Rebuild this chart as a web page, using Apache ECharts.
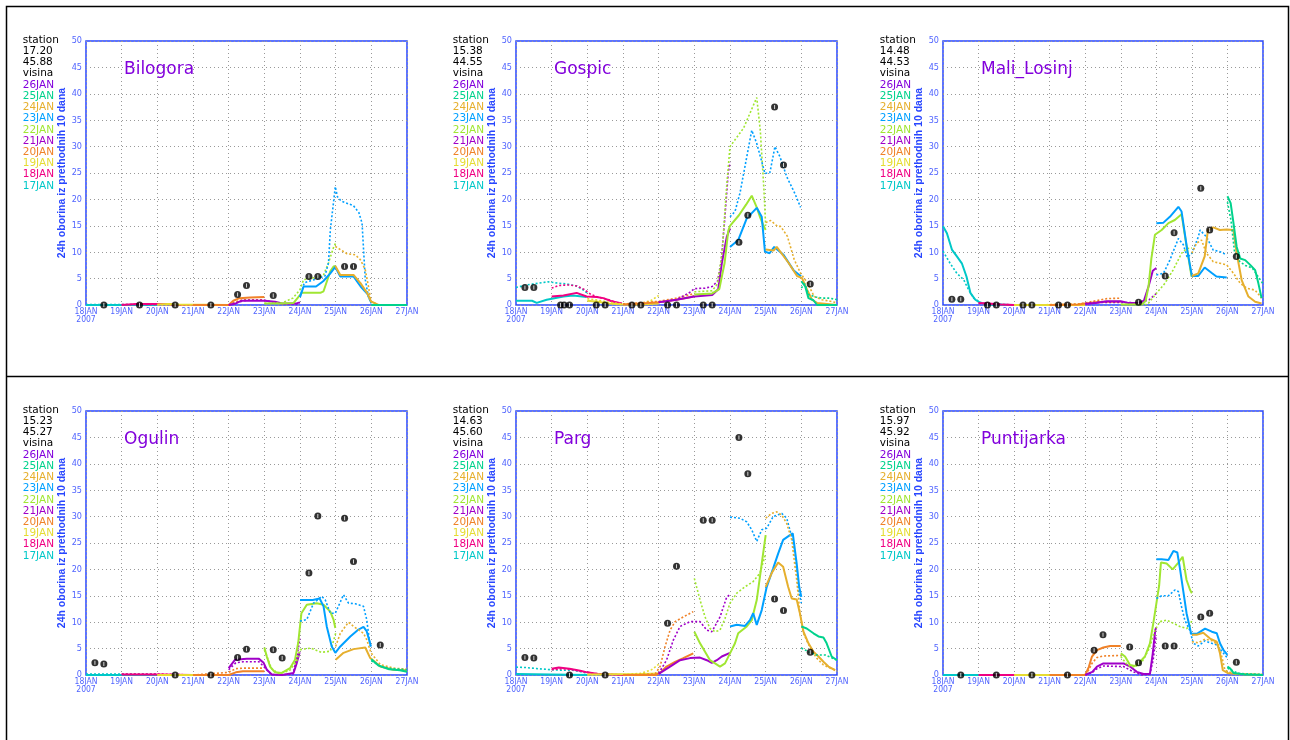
<!DOCTYPE html>
<html>
<head>
<meta charset="utf-8">
<script src="https://cdn.jsdelivr.net/npm/echarts@6/dist/echarts.min.js"></script>
<style>
html,body{margin:0;padding:0;background:#fff;}
#chart{width:1290px;height:740px;}
</style>
</head>
<body>
<div id="chart"></div>
<script>
// ---------- categories / labels ----------
const dayLabels = ['18JAN\n2007','19JAN','20JAN','21JAN','22JAN','23JAN','24JAN','25JAN','26JAN','27JAN'];
const runLabels = ['26JAN','25JAN','24JAN','23JAN','22JAN','21JAN','20JAN','19JAN','18JAN','17JAN'];
const stationNames = ['Bilogora','Gospic','Mali_Losinj','Ogulin','Parg','Puntijarka'];
const stationLon = ['17.20','15.38','14.48','15.23','14.63','15.97'];
const stationLat = ['45.88','44.55','44.53','45.27','45.60','45.92'];
const yAxisTitle = '24h oborina iz prethodnih 10 dana';

// ---------- observations [day since 18JAN 00, mm] ----------
const bilogoraObs = [[0.5,0],[1.5,0],[2.5,0],[3.5,0],[4.25,2.0],[4.5,3.7],[5.25,1.8],[6.25,5.4],[6.5,5.4],[7.25,7.3],[7.5,7.3]];
const gospicObs = [[0.25,3.3],[0.5,3.3],[1.25,0],[1.35,0],[1.5,0],[2.25,0],[2.5,0],[3.25,0],[3.5,0],[4.25,0],[4.5,0],[5.25,0],[5.5,0],[6.25,11.9],[6.5,17.0],[7.25,37.5],[7.5,26.5],[8.25,4.0]];
const maliObs = [[0.25,1.1],[0.5,1.1],[1.25,0],[1.5,0],[2.25,0],[2.5,0],[3.25,0],[3.5,0],[5.5,0.5],[6.25,5.5],[6.5,13.7],[7.25,22.1],[7.5,14.2],[8.25,9.2]];
const ogulinObs = [[0.25,2.3],[0.5,2.1],[2.5,0],[3.5,0],[4.25,3.3],[4.5,4.9],[5.25,4.8],[5.5,3.2],[6.25,19.3],[6.5,30.1],[7.25,29.7],[7.5,21.5],[8.25,5.7]];
const pargObs = [[0.25,3.3],[0.5,3.2],[1.5,0],[2.5,0],[4.25,9.8],[4.5,20.6],[5.25,29.3],[5.5,29.3],[6.25,45],[6.5,38.1],[7.25,14.4],[7.5,12.2],[8.25,4.3]];
const puntObs = [[0.5,0],[1.5,0],[2.5,0],[3.5,0],[4.25,4.7],[4.5,7.6],[5.25,5.3],[5.5,2.3],[6.25,5.5],[6.5,5.5],[7.25,11.0],[7.5,11.7],[8.25,2.4]];

// ---------- forecasts: [run, model (A / B), [[day, mm], ...]] ----------
const bilogoraRuns = [
 ['17JAN','A',[[0,0],[2,0]]],
 ['17JAN','B',[[0,0.1],[1,0.1],[2,0.1]]],
 ['18JAN','A',[[1,0],[1.4,0.2],[1.7,0.2],[2,0.2],[2.3,0.2],[2.5,0],[3,0]]],
 ['18JAN','B',[[1,0.1],[3,0]]],
 ['19JAN','A',[[2,0.1],[2.3,0.2],[2.6,0.1],[4,0]]],
 ['19JAN','B',[[2,0],[4,0]]],
 ['20JAN','A',[[3,0],[4.0,0],[4.13,0.8],[4.3,1.3],[4.6,1.4],[5.0,1.5]]],
 ['20JAN','B',[[3,0],[4.0,0],[4.2,0.6],[4.4,1.0],[5.0,1.0]]],
 ['21JAN','A',[[4,0],[4.2,0.3],[4.35,0.8],[5.0,0.8],[5.3,0.6],[5.5,0.3],[5.9,0.3],[6.0,0.5]]],
 ['21JAN','B',[[4,0],[4.3,0.6],[4.5,0.9],[5.0,0.9],[5.3,0.5],[5.5,0.2],[6,0.2]]],
 ['22JAN','A',[[5,0.3],[5.5,0.3],[5.82,0.4],[6.05,2.3],[6.57,2.3],[6.66,2.6],[6.85,6.4],[6.94,7.3],[7.0,7.4]]],
 ['22JAN','B',[[5,0.3],[5.5,0.4],[5.8,1.3],[6.0,2.9],[6.1,4.8],[6.35,5.1],[6.65,5.5],[6.8,8],[6.95,11.1],[7.0,11.7]]],
 ['23JAN','A',[[6.0,1.5],[6.1,3.5],[6.45,3.5],[6.65,4.5],[6.85,6.0],[6.99,7.2],[7.13,5.4],[7.5,5.4],[7.7,3.5],[7.9,2.0],[8.0,0.4]]],
 ['23JAN','B',[[6.0,1.5],[6.12,4.2],[6.25,4.5],[6.5,5.0],[6.7,5.5],[6.8,8],[6.85,14.2],[6.99,22.4],[7.05,20.5],[7.15,19.7],[7.5,18.8],[7.65,17.5],[7.74,15.5],[7.83,4.8],[7.92,1.5],[8.0,0.3]]],
 ['24JAN','A',[[6.99,7.4],[7.13,5.7],[7.5,5.7],[7.69,4.2],[7.88,2.3],[7.99,0.7],[8.2,0],[9,0]]],
 ['24JAN','B',[[6.99,11.1],[7.13,10.5],[7.32,9.7],[7.55,9.5],[7.69,8.6],[7.83,6.7],[7.92,3.5],[7.99,0.7],[8.2,0],[9,0]]],
 ['25JAN','A',[[8,0],[9,0]]]
];
const gospicRuns = [
 ['17JAN','A',[[0,0.8],[0.45,0.8],[0.58,0.4],[0.86,1.0],[1.33,1.6],[1.6,1.8],[1.98,1.5]]],
 ['17JAN','B',[[0,3.3],[0.3,3.8],[0.6,4.1],[0.9,4.4],[1.1,4.2],[1.4,4.0],[1.7,3.6],[1.9,2.8],[2.0,2.2]]],
 ['18JAN','A',[[1.0,1.6],[1.33,1.8],[1.7,2.3],[1.98,1.6],[2.26,1.5],[2.45,1.3],[2.68,0.7],[2.97,0.3]]],
 ['18JAN','B',[[1.0,3.2],[1.2,3.7],[1.5,3.8],[1.7,3.6],[1.9,3.0],[2.1,2.0],[2.3,1.5],[2.6,1.0],[2.8,0.5],[3.0,0.2]]],
 ['19JAN','A',[[2.0,0.8],[2.3,0.6],[2.6,0.3],[3.0,0.1],[3.5,0.1],[4.0,0.3]]],
 ['19JAN','B',[[2.0,1.2],[2.3,0.9],[2.6,0.5],[3.0,0.2],[3.5,0.3],[3.8,0.9],[4.0,1.8]]],
 ['20JAN','A',[[3.0,0.1],[3.5,0.3],[4.0,0.5],[4.5,1.0],[4.9,1.5],[5.0,1.7]]],
 ['20JAN','B',[[3.0,0.2],[3.5,0.4],[4.0,0.7],[4.5,1.3],[4.9,2.0],[5.0,2.2]]],
 ['21JAN','A',[[4.0,0.5],[4.5,1.0],[5.0,1.6],[5.5,1.9],[5.67,3.0],[5.77,7.9],[5.91,12.9],[6.0,14.5]]],
 ['21JAN','B',[[4.0,0.5],[4.5,1.0],[4.9,2.5],[5.0,3.1],[5.3,3.2],[5.5,3.5],[5.65,4.5],[5.75,8],[5.85,16],[5.95,25],[6.0,27]]],
 ['22JAN','A',[[5.0,2.0],[5.5,2.2],[5.7,3.0],[5.85,8],[5.95,14],[6.0,15],[6.25,17],[6.45,19],[6.61,20.7],[6.75,18.5],[6.85,16.5],[6.93,15.2],[7.0,14.2]]],
 ['22JAN','B',[[5.0,2.5],[5.5,2.7],[5.65,4.0],[5.78,10],[5.9,22],[6.0,30],[6.38,33.5],[6.75,39.3],[6.85,33],[6.95,22],[7.0,15]]],
 ['23JAN','A',[[6.0,11],[6.23,12.3],[6.47,16.4],[6.75,18.4],[6.89,16.7],[6.98,10.1],[7.11,9.8],[7.24,11],[7.5,9.5],[7.78,6.6],[7.96,5.6],[8.0,5.5]]],
 ['23JAN','B',[[6.0,16.7],[6.14,17.7],[6.28,21.2],[6.61,33.1],[6.75,30.6],[6.98,24.9],[7.12,25.1],[7.26,30],[7.4,28.1],[7.59,24.3],[7.82,21.1],[7.98,18.5]]],
 ['24JAN','A',[[7.0,10.5],[7.22,10.3],[7.31,11],[7.64,8],[7.88,5.5],[8.02,5.1],[8.16,2.9],[8.3,1.0],[8.44,0.4],[9.0,0]]],
 ['24JAN','B',[[7.0,15.6],[7.14,16],[7.33,14.9],[7.42,14.9],[7.61,13],[7.8,8.6],[7.98,6],[8.17,4.2],[8.36,1.6],[8.58,1.0],[8.81,0.7],[8.95,0.5]]],
 ['25JAN','A',[[8.0,4.5],[8.11,3.5],[8.2,1.3],[8.34,0.9],[8.44,0],[9,0]]],
 ['25JAN','B',[[8.0,3.2],[8.1,4.0],[8.2,2.0],[8.4,1.5],[8.6,1.3],[8.8,1.3],[9.0,1.0]]]
];
const maliRuns = [
 ['17JAN','A',[[0,14.9],[0.11,13.6],[0.25,10.5],[0.39,9.2],[0.53,7.9],[0.66,5.4],[0.77,2.3],[0.91,1.0],[1.05,0.4],[1.24,0.1],[2,0]]],
 ['17JAN','B',[[0,10.2],[0.2,7.9],[0.39,6],[0.58,4.8],[0.72,2.9],[0.86,1.3],[1.05,0.5],[1.24,0.25],[2,0]]],
 ['18JAN','A',[[1,0.4],[1.3,0.3],[1.6,0.1],[2,0],[3,0]]],
 ['18JAN','B',[[1,0.3],[1.5,0.2],[2,0],[3,0]]],
 ['19JAN','A',[[2,0],[4,0]]],
 ['19JAN','B',[[2,0],[3.5,0.1],[4,0.2]]],
 ['20JAN','A',[[3,0],[3.8,0.1],[4.0,0.3],[4.3,0.5],[4.6,0.6],[5.0,0.6]]],
 ['20JAN','B',[[3,0],[3.8,0.2],[4.0,0.4],[4.3,0.8],[4.6,1.2],[5.0,1.3]]],
 ['21JAN','A',[[4.0,0.2],[4.3,0.4],[4.6,0.7],[5.0,0.7],[5.2,0.4],[5.5,0.4],[5.65,0.8],[5.78,3.5],[5.9,6.5],[6.0,7.0]]],
 ['21JAN','B',[[4.0,0.3],[4.3,0.5],[5.0,0.5],[5.5,0.4],[5.8,1.0],[6.0,2.2]]],
 ['22JAN','A',[[5.0,0.1],[5.6,0.1],[5.7,0.8],[5.78,3.5],[5.86,8.8],[5.96,13.3],[6.15,14.2],[6.34,15.5],[6.52,16.1],[6.71,17.2],[6.83,12],[6.99,5.4]]],
 ['22JAN','B',[[5.0,0.1],[5.75,0.1],[6.0,2.2],[6.24,4.1],[6.47,6.6],[6.71,9.8],[6.85,10.7],[7.0,10.8]]],
 ['23JAN','A',[[6.0,15.5],[6.2,15.6],[6.38,16.7],[6.62,18.6],[6.71,17.7],[6.87,10.4],[7.0,5.5],[7.18,5.5],[7.36,7.1],[7.55,6.1],[7.69,5.4],[7.98,5.2]]],
 ['23JAN','B',[[6.0,5.7],[6.2,6.0],[6.38,8.5],[6.62,12.6],[6.76,11.4],[6.87,9.0],[7.0,9.8],[7.18,12.9],[7.23,14.2],[7.41,12.9],[7.6,10.4],[7.79,10.1],[7.98,9.5]]],
 ['24JAN','A',[[7.0,5.5],[7.18,6],[7.36,9.2],[7.45,14.2],[7.6,14.7],[7.79,14.2],[7.98,14.3],[8.17,14.2],[8.26,9.8],[8.4,4.7],[8.59,1.6],[8.78,0.6],[8.96,0.3]]],
 ['24JAN','B',[[7.0,9.8],[7.13,11.7],[7.27,12.3],[7.41,9.8],[7.6,8.2],[7.79,7.9],[7.98,7.6],[8.17,6],[8.36,4.1],[8.54,3.2],[8.78,2.8],[8.96,1.3]]],
 ['25JAN','A',[[8.0,20.6],[8.09,19.3],[8.17,15.5],[8.26,11],[8.36,8.8],[8.5,8.5],[8.64,7.6],[8.78,6.6],[8.87,4.1],[8.96,1.3]]],
 ['25JAN','B',[[8.0,19.5],[8.1,16],[8.2,10],[8.35,8.2],[8.5,7.5],[8.7,7],[8.85,5.5],[9.0,4.0]]]
];
const ogulinRuns = [
 ['17JAN','A',[[0,0],[2,0]]],
 ['17JAN','B',[[0,0.2],[1,0.2],[2,0.2]]],
 ['18JAN','A',[[1,0.1],[2,0.1],[3,0]]],
 ['18JAN','B',[[1,0.2],[2,0.2],[3,0]]],
 ['19JAN','A',[[2,0],[4,0]]],
 ['19JAN','B',[[2,0],[4,0]]],
 ['20JAN','A',[[3,0],[4.0,0],[4.2,0.5],[4.4,0.7],[5.0,0.7]]],
 ['20JAN','B',[[3,0],[4.0,0.5],[4.2,1.2],[4.4,1.3],[5.0,1.3]]],
 ['21JAN','A',[[4.0,1.3],[4.18,2.9],[4.51,3.1],[4.84,3.1],[4.98,2.3],[5.07,1.0],[5.21,0.1],[5.5,0],[5.82,0.4],[5.91,2.3],[5.99,4.3]]],
 ['21JAN','B',[[4.0,1.0],[4.2,2.3],[4.4,2.5],[4.85,2.5],[5.0,1.5],[5.2,0.1],[5.8,0.1],[5.9,3],[6.0,6.9]]],
 ['22JAN','A',[[5.0,5.2],[5.07,3.5],[5.16,1.6],[5.3,0.5],[5.49,0.4],[5.72,1.3],[5.86,2.9],[5.95,6.1],[6.04,11.7],[6.19,13.3],[6.47,13.6],[6.66,13.3],[6.85,12],[6.94,10.5],[6.99,8.9]]],
 ['22JAN','B',[[5.0,4.8],[5.1,3],[5.2,1.2],[5.4,0.3],[5.7,0.8],[5.9,2.5],[6.0,4.8],[6.3,5.1],[6.6,4.3],[6.85,4.5],[6.95,6.7],[7.0,7.9]]],
 ['23JAN','A',[[6.0,14.2],[6.36,14.2],[6.55,14.5],[6.66,13],[6.75,9.2],[6.89,5.4],[6.99,4.2],[7.13,5.4],[7.41,7.3],[7.64,8.6],[7.78,9.1],[7.87,8.3],[7.99,5.4]]],
 ['23JAN','B',[[6.0,10.2],[6.19,10.5],[6.38,13.6],[6.61,14.9],[6.71,14.2],[6.85,11.7],[6.99,11.7],[7.22,15.2],[7.36,13.6],[7.55,13.5],[7.78,13],[7.87,10.5],[7.97,5.4]]],
 ['24JAN','A',[[7.0,2.9],[7.22,4.2],[7.5,4.9],[7.83,5.2],[7.97,3.2],[8.25,1.6],[8.62,1.0],[9.0,0.9]]],
 ['24JAN','B',[[7.0,5.4],[7.13,7.9],[7.36,10],[7.5,9.2],[7.78,7.9],[7.87,6.7],[7.99,4.2],[8.25,2.0],[8.62,1.3],[9.0,1.1]]],
 ['25JAN','A',[[8.0,3.0],[8.2,1.8],[8.5,1.1],[8.8,0.9],[9.0,0.6]]],
 ['25JAN','B',[[8.0,2.7],[8.3,1.5],[8.6,1.2],[9.0,1.0]]]
];
const pargRuns = [
 ['17JAN','A',[[0,0.2],[1,0.1],[2,0]]],
 ['17JAN','B',[[0,1.5],[0.3,1.4],[0.6,1.2],[1.0,1.0],[1.3,0.9],[1.6,0.9],[1.9,0.5],[2.0,0.2]]],
 ['18JAN','A',[[1.0,1.2],[1.2,1.4],[1.5,1.2],[1.8,0.8],[2.0,0.5],[2.3,0.2],[3.0,0]]],
 ['18JAN','B',[[1.0,1.0],[1.3,1.2],[1.6,1.0],[1.9,0.6],[2.2,0.3],[3.0,0]]],
 ['19JAN','A',[[2,0.1],[3.5,0.2],[4,0.3]]],
 ['19JAN','B',[[2,0],[3.0,0.1],[3.5,0.3],[3.8,1.0],[4.0,2.0]]],
 ['20JAN','A',[[3,0],[3.9,0],[4.04,0.4],[4.22,1.6],[4.46,2.5],[4.69,3.2],[4.97,4.1]]],
 ['20JAN','B',[[3,0],[3.9,0.2],[4.04,1.6],[4.18,5.4],[4.32,8.5],[4.46,10.1],[4.69,11],[4.97,12]]],
 ['21JAN','A',[[4.0,0.2],[4.32,1.6],[4.6,2.8],[4.88,3.2],[5.16,3.3],[5.35,2.8],[5.49,2.3],[5.63,2.8],[5.77,3.5],[6.0,4.2]]],
 ['21JAN','B',[[4.0,0.3],[4.22,2.8],[4.41,6.6],[4.6,9.2],[4.88,10.1],[5.16,10.1],[5.35,8.5],[5.49,8.2],[5.72,11],[5.91,14.8],[6.0,15.2]]],
 ['22JAN','A',[[5.0,8.2],[5.16,6.0],[5.44,2.8],[5.72,1.6],[5.86,2.2],[6.0,4.1],[6.14,6],[6.23,7.9],[6.47,9.2],[6.61,10.4],[6.75,14.2],[6.89,21.1],[7.0,26.5]]],
 ['22JAN','B',[[5.0,18.3],[5.16,14.2],[5.3,11],[5.44,8.8],[5.58,8.2],[5.72,8.5],[5.86,10.7],[6.0,13.6],[6.19,15.5],[6.42,16.7],[6.65,17.7],[6.84,19.3],[7.0,23]]],
 ['23JAN','A',[[6.0,9.2],[6.19,9.5],[6.42,9.3],[6.56,10.4],[6.65,11.7],[6.75,9.5],[6.89,12.3],[7.03,16.7],[7.21,20.2],[7.35,23],[7.49,25.6],[7.68,26.5],[7.76,26.8],[7.87,21.1],[7.94,16.7],[8.0,14.8]]],
 ['23JAN','B',[[6.0,29.9],[6.28,29.7],[6.47,29],[6.61,27.5],[6.75,25.3],[6.89,27.5],[7.03,27.8],[7.21,30],[7.45,30.6],[7.59,29.7],[7.73,26.2],[7.83,22.4],[7.92,16.1],[8.0,13.6]]],
 ['24JAN','A',[[7.0,16.7],[7.17,19.3],[7.35,21.3],[7.49,20.5],[7.63,16.7],[7.73,14.5],[7.87,14.3],[7.96,11.7],[8.06,8.2],[8.2,6],[8.34,4.4],[8.48,3.5],[8.62,2.5],[8.76,1.6],[8.95,0.9]]],
 ['24JAN','B',[[7.0,29.7],[7.17,30.6],[7.31,30.9],[7.45,30.3],[7.59,28.7],[7.73,25.6],[7.87,18],[7.96,11.7],[8.06,7.9],[8.25,5.1],[8.43,3.2],[8.62,1.9],[8.81,1.3],[9.0,0.8]]],
 ['25JAN','A',[[8.0,9.2],[8.15,8.8],[8.34,7.9],[8.48,7.3],[8.62,7.1],[8.71,6],[8.85,3.5],[9.0,2.8]]],
 ['25JAN','B',[[8.0,5.1],[8.2,4.4],[8.43,3.8],[8.67,3.8],[9.0,2.8]]]
];
const puntRuns = [
 ['17JAN','A',[[0,0],[2,0]]],
 ['17JAN','B',[[0,0],[2,0]]],
 ['18JAN','A',[[1,0],[3,0]]],
 ['19JAN','A',[[2,0],[4,0]]],
 ['20JAN','A',[[3,0],[4.0,0],[4.1,1.5],[4.19,3.5],[4.33,4.7],[4.51,5.2],[4.7,5.5],[5.0,5.5]]],
 ['20JAN','B',[[3,0],[4.0,0],[4.1,1.0],[4.19,2.2],[4.33,3.3],[4.51,3.6],[5.0,3.7]]],
 ['21JAN','A',[[4.0,0],[4.2,0.6],[4.33,1.6],[4.51,2.2],[5.08,2.2],[5.26,1.6],[5.45,0.6],[5.64,0.2],[5.82,0.2],[5.9,4.1],[5.97,8.5],[6.0,9.0]]],
 ['21JAN','B',[[4.0,0],[4.2,0.5],[4.33,1.2],[4.51,1.7],[5.08,1.6],[5.35,0.6],[5.6,0],[5.82,0.2],[5.91,2.8],[5.99,7.3]]],
 ['22JAN','A',[[5.0,4.1],[5.12,3.5],[5.26,1.9],[5.4,1.7],[5.54,2.5],[5.68,3.5],[5.82,6],[5.92,10],[6.0,13.5],[6.08,17],[6.13,21.3],[6.29,21.1],[6.46,20],[6.62,21.3],[6.74,22.4],[6.85,18],[6.95,16.1],[7.0,15.5]]],
 ['22JAN','B',[[5.0,3.5],[5.2,1.8],[5.4,1.5],[5.6,2.5],[5.8,5],[5.96,8.5],[6.1,10.1],[6.29,10.4],[6.48,9.8],[6.66,9.2],[6.85,8.8],[6.94,9.2],[7.0,10.4]]],
 ['23JAN','A',[[6.0,21.9],[6.15,21.9],[6.34,21.8],[6.48,23.5],[6.59,23.2],[6.67,19.9],[6.76,15.8],[6.85,11.7],[6.98,7.8],[7.14,7.8],[7.37,8.8],[7.56,8.2],[7.7,7.9],[7.79,6],[7.89,4.7],[8.0,3.8]]],
 ['23JAN','B',[[6.0,14.5],[6.15,15],[6.34,15],[6.52,16.1],[6.62,15.8],[6.71,12.9],[6.8,10.4],[6.94,8.5],[7.04,6],[7.18,5.5],[7.37,6.5],[7.51,6.1],[7.7,5.7],[7.89,4.1],[8.0,3.2]]],
 ['24JAN','A',[[7.0,7.6],[7.13,7.6],[7.32,8.0],[7.51,6.9],[7.7,6.3],[7.79,4.1],[7.87,0.9],[8.0,0.4],[8.26,0.2],[9,0]]],
 ['24JAN','B',[[7.0,6.3],[7.18,6.1],[7.37,6.8],[7.56,6.5],[7.75,5.7],[7.84,3.5],[7.93,0.9],[8.17,0.3],[9,0.1]]],
 ['25JAN','A',[[8.0,1.6],[8.08,1.2],[8.17,0.4],[8.5,0.1],[9,0]]],
 ['25JAN','B',[[8.0,1.3],[8.15,0.8],[8.3,0.3],[9,0.1]]]
];

const stationObs = [bilogoraObs, gospicObs, maliObs, ogulinObs, pargObs, puntObs];
const stationRuns = [bilogoraRuns, gospicRuns, maliRuns, ogulinRuns, pargRuns, puntRuns];

// ---------- styles ----------
const runColors = {
  '26JAN':'rgb(130,0,220)', '25JAN':'rgb(0,210,140)', '24JAN':'rgb(230,175,45)',
  '23JAN':'rgb(0,160,255)', '22JAN':'rgb(160,230,50)', '21JAN':'rgb(160,0,200)',
  '20JAN':'rgb(240,130,40)', '19JAN':'rgb(230,220,50)', '18JAN':'rgb(240,0,130)',
  '17JAN':'rgb(0,200,200)'
};
const axisBlue = 'rgb(40,70,255)';
const labelBlue = 'rgb(80,100,255)';
const titlePurple = 'rgb(130,0,220)';
const narrowFont = '"Liberation Sans Narrow","DejaVu Sans Condensed",sans-serif';
const panelPos = [[86,41,321],[516,41,321],[943,41,320],[86,411,321],[516,411,321],[943,411,320]];
const plotH = 264;

const grids = [], xAxes = [], yAxes = [], series = [], graphics = [];

graphics.push({type:'rect', shape:{x:6.5,y:6.5,width:1282,height:760}, style:{fill:'none',stroke:'#000',lineWidth:1.5}, silent:true});
graphics.push({type:'line', shape:{x1:6.5,y1:376.5,x2:1288.5,y2:376.5}, style:{stroke:'#000',lineWidth:1.5}, silent:true});

stationNames.forEach((name, i) => {
  const [left, top, w] = panelPos[i];
  grids.push({left:left, top:top, width:w, height:plotH, show:true, borderColor:axisBlue, borderWidth:1.5, backgroundColor:'transparent'});
  xAxes.push({
    type:'value', gridIndex:i, min:0, max:9, interval:1,
    axisLine:{show:false}, axisTick:{show:false},
    axisLabel:{color:labelBlue, fontSize:8.5, fontFamily:narrowFont, margin:3, lineHeight:8,
      formatter:v => dayLabels[Math.round(v)] || ''},
    splitLine:{show:true, lineStyle:{color:'#999', type:[1,3], width:1}}
  });
  yAxes.push({
    type:'value', gridIndex:i, min:0, max:50, interval:5,
    name:yAxisTitle, nameLocation:'middle', nameGap:18,
    nameTextStyle:{color:axisBlue, fontSize:10.5, fontWeight:'bold', fontFamily:'"Liberation Sans",Arial,sans-serif'},
    axisLine:{show:false}, axisTick:{show:false},
    axisLabel:{color:labelBlue, fontSize:9, fontFamily:narrowFont, margin:4},
    splitLine:{show:true, lineStyle:{color:'#999', type:[1,3], width:1}}
  });

  stationRuns[i].forEach(([run, model, pts]) => {
    series.push({
      type:'line', xAxisIndex:i, yAxisIndex:i, data:pts, showSymbol:false, symbol:'none',
      silent:true, z:2,
      lineStyle: model === 'A'
        ? {color:runColors[run], width:2}
        : {color:runColors[run], width:1.6, type:[2,2]}
    });
  });
  series.push({type:'scatter', xAxisIndex:i, yAxisIndex:i, data:stationObs[i], symbol:'circle', symbolSize:7,
    itemStyle:{color:'#000'}, silent:true, z:5});
  series.push({type:'scatter', xAxisIndex:i, yAxisIndex:i, data:stationObs[i], symbol:'rect', symbolSize:[1,4],
    itemStyle:{color:'#fff'}, silent:true, z:6});

  // station title inside plot
  graphics.push({type:'text', x:left+38, y:top+29, style:{text:name, fill:titlePurple, fontSize:17,
    fontFamily:'"DejaVu Sans",sans-serif', textVerticalAlign:'middle'}, silent:true, z:10});

  // left legend column
  const lx = left - 63.3, ly = top - 1;
  const info = [['station','#000'],[stationLon[i],'#000'],[stationLat[i],'#000'],['visina','#000']]
    .concat(runLabels.map(r => [r, runColors[r]]));
  info.forEach(([t, c], k) => {
    graphics.push({type:'text', x:lx, y:ly + k*11.23, style:{text:t, fill:c, fontSize:10.5,
      fontFamily:'"DejaVu Sans",sans-serif', textVerticalAlign:'middle'}, silent:true, z:10});
  });
});

const chart = echarts.init(document.getElementById('chart'), null, {renderer:'canvas'});
chart.setOption({
  animation:false,
  backgroundColor:'#fff',
  grid:grids, xAxis:xAxes, yAxis:yAxes, series:series, graphic:graphics
});
</script>
</body>
</html>
